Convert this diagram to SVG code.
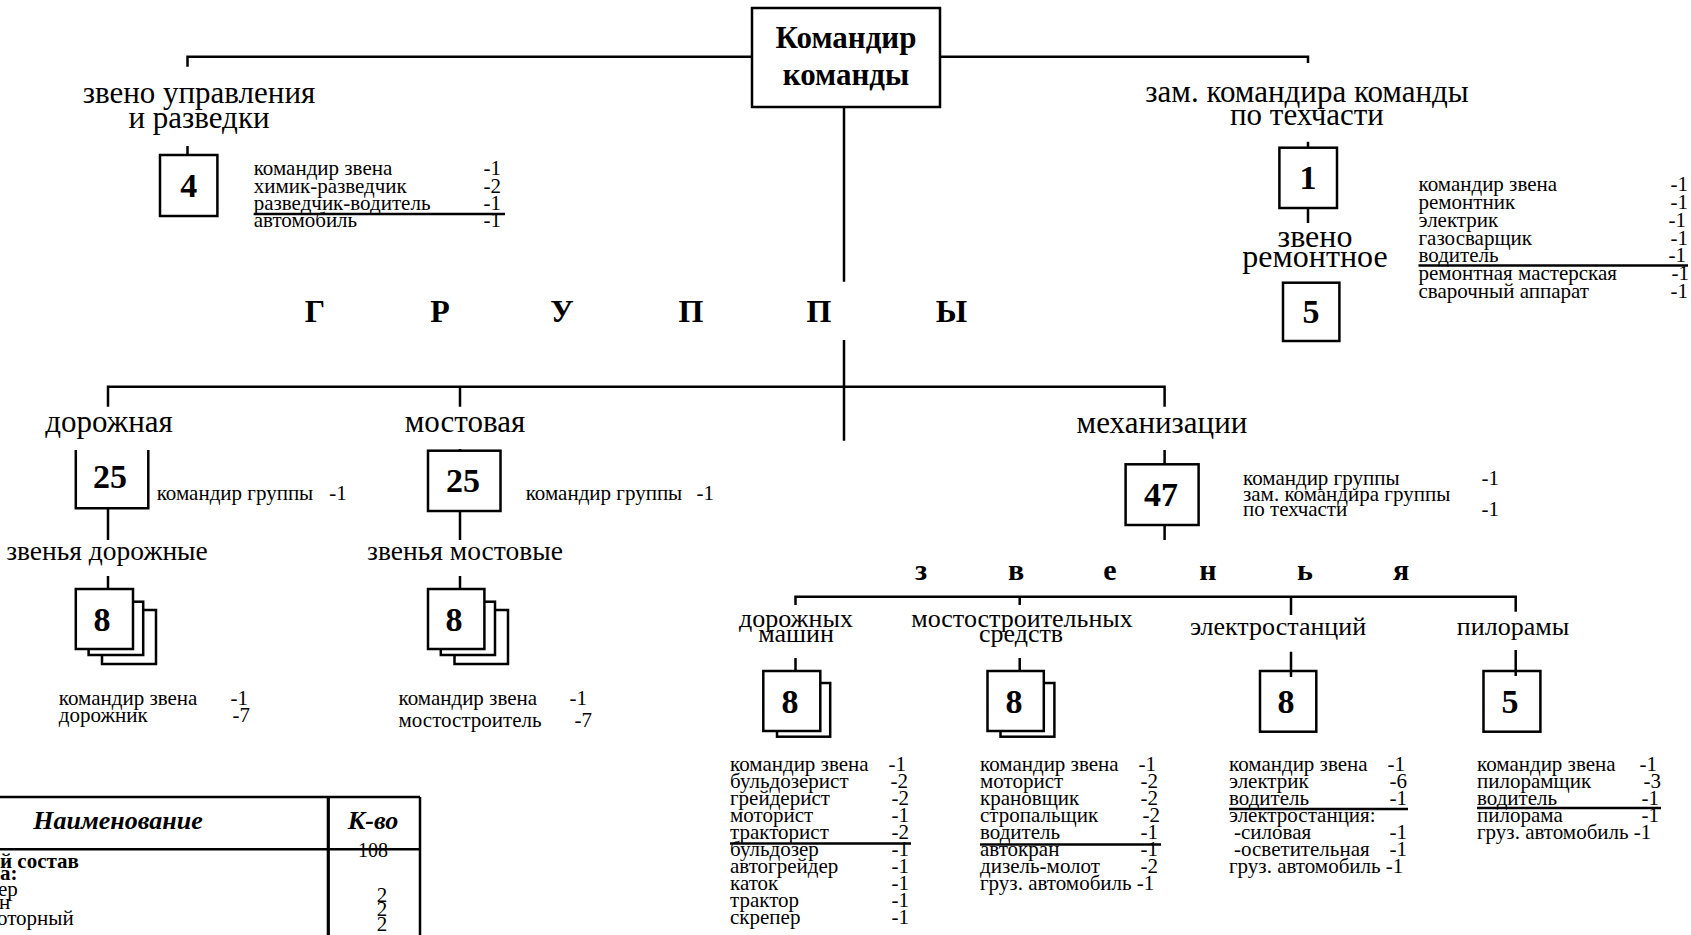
<svg xmlns="http://www.w3.org/2000/svg" width="1691" height="935" viewBox="0 0 1691 935">
<style>
text{font-family:"Liberation Serif","DejaVu Serif",serif;fill:#000}
.big{font-size:31px}
.zv{font-size:27.5px}
.mid{font-size:26px}
.sm{font-size:21px}
.num{font-size:34px;font-weight:bold;text-anchor:middle}
.c{text-anchor:middle}
.r{text-anchor:end}
.b{font-weight:bold}
.ln{stroke:#000;stroke-width:2.5;fill:none}
.bx{stroke:#000;stroke-width:2.5;fill:#fff}
.ul{stroke:#000;stroke-width:2.5}
</style>
<rect width="1691" height="935" fill="#fff"/>

<g id="connectors" class="ln">
  <path d="M187.5 66.7V56.7H752M940 56.7H1308V63"/>
  <path d="M844 107V281.7M844 340V440.7"/>
  <path d="M187.5 146V155"/>
  <path d="M1308 141.7V147.7M1308 208V223"/>
  <path d="M108 406.7V386.7H1164.6V406.7M460 386.7V406.7"/>
  <path d="M108 508.3V540M108 576V589"/>
  <path d="M460 449V451M460 511V540M460 576V589"/>
  <path d="M1164.6 450V464.3M1164.6 525V540"/>
  <path d="M795.5 605V596.7H1515.7V611.7M1019.7 596.7V605M1291 596.7V615"/>
  <path d="M795.5 658V671M1019.7 658V671M1291 651.7V676.7M1515.7 650V676"/>
</g>

<g id="commander">
  <rect class="bx" x="752" y="8" width="188" height="99"/>
  <text class="c b" x="846" y="48" font-size="31">Командир</text>
  <text class="c b" x="846" y="85" font-size="31">команды</text>
</g>

<g id="gruppy">
  <text class="b c" font-size="32" x="315" y="322">Г</text>
  <text class="b c" font-size="32" x="440" y="322">Р</text>
  <text class="b c" font-size="32" x="562" y="322">У</text>
  <text class="b c" font-size="32" x="691" y="322">П</text>
  <text class="b c" font-size="32" x="819" y="322">П</text>
  <text class="b c" font-size="32" x="951.5" y="322">Ы</text>
</g>

<g id="zveno-upr">
  <text class="big c" x="199" y="103">звено управления</text>
  <text class="big c" x="199" y="128">и разведки</text>
  <rect class="bx" x="160" y="155" width="57.4" height="61"/>
  <text class="num" x="188.7" y="197">4</text>
  <g class="sm">
    <text x="253.7" y="175">командир звена</text>
    <text x="253.7" y="192.5">химик-разведчик</text>
    <text x="253.7" y="210">разведчик-водитель</text>
    <text x="253.7" y="227">автомобиль</text>
    <text class="r" x="501" y="175">-1</text>
    <text class="r" x="501" y="192.5">-2</text>
    <text class="r" x="501" y="210">-1</text>
    <text class="r" x="501" y="227">-1</text>
  </g>
  <line class="ul" x1="253.7" y1="214" x2="505" y2="214"/>
</g>

<g id="zam-tech">
  <text class="big c" x="1307" y="101.7">зам. командира команды</text>
  <text class="big c" x="1307" y="125">по техчасти</text>
  <rect class="bx" x="1279.4" y="147.7" width="57.6" height="60.3"/>
  <text class="num" x="1308" y="189">1</text>
</g>

<g id="zveno-remont">
  <text class="c" font-size="32" x="1315" y="247">звено</text>
  <text class="c" font-size="32" x="1315" y="267">ремонтное</text>
  <rect class="bx" x="1283" y="282.7" width="56.4" height="58.3"/>
  <text class="num" x="1311" y="323">5</text>
  <g class="sm">
    <text x="1418.5" y="191">командир звена</text>
    <text x="1418.5" y="209">ремонтник</text>
    <text x="1418.5" y="227">электрик</text>
    <text x="1418.5" y="244.5">газосварщик</text>
    <text x="1418.5" y="262">водитель</text>
    <text x="1418.5" y="280">ремонтная мастерская</text>
    <text x="1418.5" y="298">сварочный аппарат</text>
    <text class="r" x="1688" y="191">-1</text>
    <text class="r" x="1688" y="209">-1</text>
    <text class="r" x="1686" y="227">-1</text>
    <text class="r" x="1688" y="244.5">-1</text>
    <text class="r" x="1686" y="262">-1</text>
    <text class="r" x="1689" y="280">-1</text>
    <text class="r" x="1688" y="298">-1</text>
  </g>
  <line class="ul" x1="1418.5" y1="265.5" x2="1688" y2="265.5"/>
</g>

<g id="grp-dorozh">
  <text class="big c" x="109" y="432">дорожная</text>
  <path class="ln" d="M75.8 450V508.3H148.3V450"/>
  <text class="num" x="110" y="488">25</text>
  <text class="sm" x="156.7" y="500">командир группы</text>
  <text class="sm r" x="346.7" y="500">-1</text>
  <text class="zv c" x="107" y="560">звенья дорожные</text>
  <rect class="bx" x="102" y="610" width="54" height="54"/>
  <rect class="bx" x="88.6" y="601.7" width="54.6" height="53.3"/>
  <rect class="bx" x="75.8" y="589" width="57.2" height="60"/>
  <text class="num" x="102" y="631">8</text>
  <text class="sm" x="58.8" y="705">командир звена</text>
  <text class="sm r" x="248" y="705">-1</text>
  <text class="sm" x="58.8" y="722">дорожник</text>
  <text class="sm r" x="250" y="722">-7</text>
</g>

<g id="grp-most">
  <text class="big c" x="465" y="432">мостовая</text>
  <rect class="bx" x="428" y="450.7" width="72.5" height="60.3"/>
  <text class="num" x="463" y="492">25</text>
  <text class="sm" x="525.7" y="500">командир группы</text>
  <text class="sm r" x="714" y="500">-1</text>
  <text class="zv c" x="465" y="560">звенья мостовые</text>
  <rect class="bx" x="454.5" y="610" width="53.5" height="54"/>
  <rect class="bx" x="440.8" y="601.7" width="54.2" height="53.3"/>
  <rect class="bx" x="428" y="589" width="56.4" height="60"/>
  <text class="num" x="454" y="631">8</text>
  <text class="sm" x="398.5" y="705">командир звена</text>
  <text class="sm r" x="587" y="705">-1</text>
  <text class="sm" x="398.5" y="727">мостостроитель</text>
  <text class="sm r" x="592" y="727">-7</text>
</g>

<g id="grp-mech">
  <text class="big c" x="1162" y="433">механизации</text>
  <rect class="bx" x="1125.6" y="464.3" width="73" height="60.7"/>
  <text class="num" x="1161" y="506">47</text>
  <g class="sm">
    <text x="1243" y="485">командир группы</text>
    <text x="1243" y="500.5">зам. командира группы</text>
    <text x="1243" y="516">по техчасти</text>
    <text class="r" x="1499" y="485">-1</text>
    <text class="r" x="1499" y="516">-1</text>
  </g>
</g>

<g id="zvenya">
  <text class="b c" font-size="30" x="921" y="580">з</text>
  <text class="b c" font-size="30" x="1016" y="580">в</text>
  <text class="b c" font-size="30" x="1110" y="580">е</text>
  <text class="b c" font-size="30" x="1208" y="580">н</text>
  <text class="b c" font-size="30" x="1305" y="580">ь</text>
  <text class="b c" font-size="30" x="1401" y="580">я</text>
</g>

<g id="zv-dormash">
  <text class="mid c" x="796" y="627">дорожных</text>
  <text class="mid c" x="796" y="642">машин</text>
  <rect class="bx" x="777" y="683" width="53.2" height="53.7"/>
  <rect class="bx" x="763.3" y="671" width="57" height="60"/>
  <text class="num" x="790" y="713">8</text>
  <g class="sm">
    <text x="730" y="771">командир звена</text>
    <text x="730" y="788">бульдозерист</text>
    <text x="730" y="805">грейдерист</text>
    <text x="730" y="822">моторист</text>
    <text x="730" y="839">тракторист</text>
    <text x="730" y="856">бульдозер</text>
    <text x="730" y="873">автогрейдер</text>
    <text x="730" y="890">каток</text>
    <text x="730" y="907">трактор</text>
    <text x="730" y="924">скрепер</text>
    <text class="r" x="906" y="771">-1</text>
    <text class="r" x="908" y="788">-2</text>
    <text class="r" x="909" y="805">-2</text>
    <text class="r" x="909" y="822">-1</text>
    <text class="r" x="909" y="839">-2</text>
    <text class="r" x="909" y="856">-1</text>
    <text class="r" x="909" y="873">-1</text>
    <text class="r" x="909" y="890">-1</text>
    <text class="r" x="909" y="907">-1</text>
    <text class="r" x="909" y="924">-1</text>
  </g>
  <line class="ul" x1="730" y1="843.5" x2="911" y2="843.5"/>
</g>

<g id="zv-mostsr">
  <text class="mid c" x="1022" y="627">мостостроительных</text>
  <text class="mid c" x="1021" y="642">средств</text>
  <rect class="bx" x="1000.5" y="683" width="53.9" height="53.7"/>
  <rect class="bx" x="987.5" y="671" width="56.3" height="60"/>
  <text class="num" x="1014" y="713">8</text>
  <g class="sm">
    <text x="980" y="771">командир звена</text>
    <text x="980" y="788">моторист</text>
    <text x="980" y="805">крановщик</text>
    <text x="980" y="822">стропальщик</text>
    <text x="980" y="839">водитель</text>
    <text x="980" y="856">автокран</text>
    <text x="980" y="873">дизель-молот</text>
    <text x="980" y="890">груз. автомобиль -1</text>
    <text class="r" x="1156" y="771">-1</text>
    <text class="r" x="1158" y="788">-2</text>
    <text class="r" x="1158" y="805">-2</text>
    <text class="r" x="1160" y="822">-2</text>
    <text class="r" x="1158" y="839">-1</text>
    <text class="r" x="1158" y="856">-1</text>
    <text class="r" x="1158" y="873">-2</text>
  </g>
  <line class="ul" x1="980" y1="844.5" x2="1161" y2="844.5"/>
</g>

<g id="zv-elektro">
  <text class="mid c" x="1278" y="635">электростанций</text>
  <rect class="bx" x="1260" y="671" width="56.3" height="60.7"/>
  <line class="ul" x1="1291" y1="671" x2="1291" y2="677"/>
  <text class="num" x="1286" y="713">8</text>
  <g class="sm">
    <text x="1229" y="771">командир звена</text>
    <text x="1229" y="788">электрик</text>
    <text x="1229" y="805">водитель</text>
    <text x="1229" y="822">электростанция:</text>
    <text x="1234" y="839">-силовая</text>
    <text x="1234" y="856">-осветительная</text>
    <text x="1229" y="873">груз. автомобиль -1</text>
    <text class="r" x="1405" y="771">-1</text>
    <text class="r" x="1407" y="788">-6</text>
    <text class="r" x="1407" y="805">-1</text>
    <text class="r" x="1407" y="839">-1</text>
    <text class="r" x="1407" y="856">-1</text>
  </g>
  <line class="ul" x1="1229" y1="809" x2="1408" y2="809"/>
</g>

<g id="zv-pilorama">
  <text class="mid c" x="1513" y="635">пилорамы</text>
  <rect class="bx" x="1483.5" y="671" width="56.9" height="60.7"/>
  <line class="ul" x1="1515.7" y1="671" x2="1515.7" y2="676"/>
  <text class="num" x="1510" y="713">5</text>
  <g class="sm">
    <text x="1477" y="771">командир звена</text>
    <text x="1477" y="788">пилорамщик</text>
    <text x="1477" y="805">водитель</text>
    <text x="1477" y="822">пилорама</text>
    <text x="1477" y="839">груз. автомобиль -1</text>
    <text class="r" x="1657" y="771">-1</text>
    <text class="r" x="1661" y="788">-3</text>
    <text class="r" x="1659" y="805">-1</text>
    <text class="r" x="1659" y="822">-1</text>
  </g>
  <line class="ul" x1="1477" y1="808" x2="1661" y2="808"/>
</g>

<g id="table">
  <path class="ln" d="M0 797H420M0 849.3H420M420 797V935"/>
  <line x1="328.3" y1="797" x2="328.3" y2="935" stroke="#000" stroke-width="3.2"/>
  <text class="c b" font-style="italic" font-size="26" x="118" y="829">Наименование</text>
  <text class="c b" font-style="italic" font-size="26" x="373" y="829">К-во</text>
  <text class="c" font-size="20" x="373" y="857">108</text>
  <text class="b" font-size="21" x="0" y="868">й состав</text>
  <text class="b" font-size="21" x="0" y="880">а:</text>
  <text font-size="21" x="-2" y="896">ер</text>
  <text font-size="21" x="-1" y="909">н</text>
  <text font-size="21" x="-3" y="925">оторный</text>
  <text class="c" font-size="21" x="382" y="902">2</text>
  <text class="c" font-size="21" x="382" y="916">2</text>
  <text class="c" font-size="21" x="382" y="931">2</text>
</g>
</svg>
